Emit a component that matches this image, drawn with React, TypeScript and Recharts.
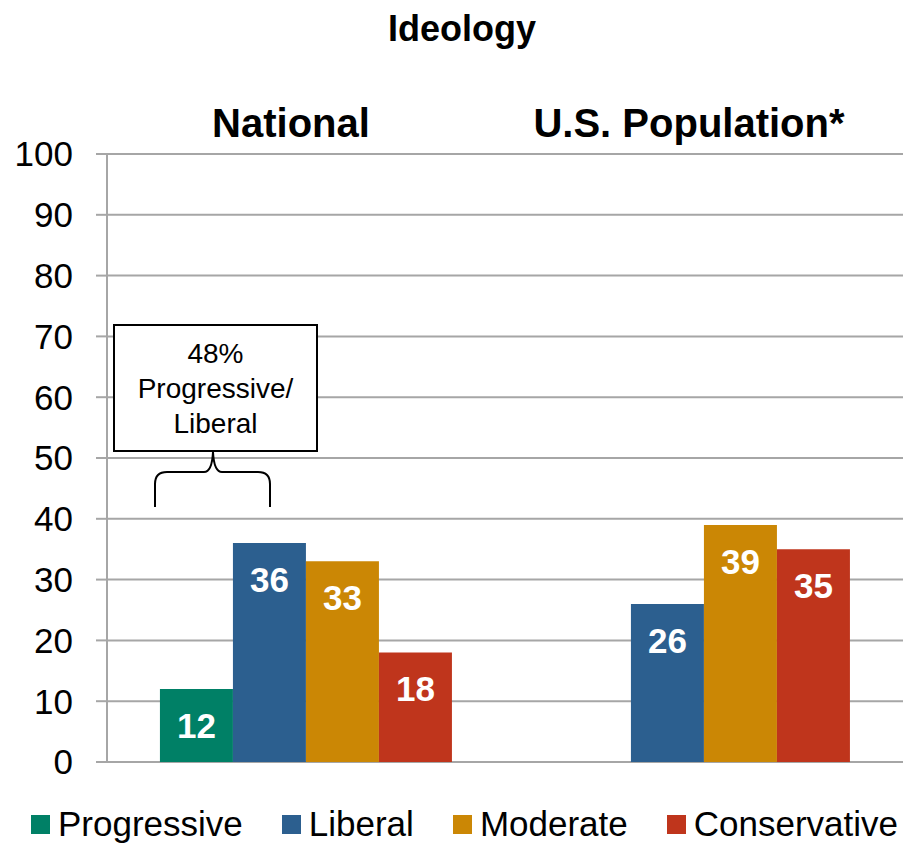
import React from 'react';
import { BarChart, Bar, XAxis, YAxis, CartesianGrid, LabelList } from 'recharts';

const categories = ['National', 'U.S. Population*'];
const progressive = [12, null];
const liberal = [36, 26];
const moderate = [33, 39];
const conservative = [18, 35];
const yTicks = [0, 10, 20, 30, 40, 50, 60, 70, 80, 90, 100];

const series = [
  { key: 'progressive', name: 'Progressive', color: '#008066' },
  { key: 'liberal', name: 'Liberal', color: '#2C5F8F' },
  { key: 'moderate', name: 'Moderate', color: '#CB8705' },
  { key: 'conservative', name: 'Conservative', color: '#BF351C' },
];

const data = categories.map((name, i) => ({
  name,
  progressive: progressive[i],
  liberal: liberal[i],
  moderate: moderate[i],
  conservative: conservative[i],
}));

const FONT = '"Liberation Sans", Arial, sans-serif';
const GRID = '#A6A6A6';

const CategoryTick = (props: any) => {
  const { x, y, payload } = props;
  return (
    <text x={x - 15} y={y} textAnchor="middle" fontSize={40} fontWeight="bold" fill="#000" fontFamily={FONT}>
      {payload.value}
    </text>
  );
};

export default function App() {
  return (
    <div style={{ position: 'absolute', left: 0, top: 0, width: 910, height: 846, fontFamily: FONT, background: '#fff' }}>
      <BarChart
        width={910}
        height={846}
        data={data}
        margin={{ top: 94, right: 7, left: 10, bottom: 84 }}
        barCategoryGap="13.3%"
        barGap={0}
      >
        <CartesianGrid vertical={false} stroke={GRID} strokeWidth={2} />
        <XAxis
          dataKey="name"
          orientation="top"
          height={60}
          axisLine={false}
          tickLine={false}
          tickSize={0}
          tickMargin={17}
          tick={<CategoryTick />}
        />
        <YAxis
          width={97}
          domain={[0, 100]}
          ticks={yTicks}
          interval={0}
          tickSize={11}
          tickMargin={23}
          axisLine={{ stroke: GRID, strokeWidth: 2 }}
          tickLine={{ stroke: GRID, strokeWidth: 2 }}
          tick={{ fontSize: 35, fill: '#000', fontFamily: FONT }}
        />
        {series.map((s) => (
          <Bar key={s.key} dataKey={s.key} name={s.name} fill={s.color} isAnimationActive={false}>
            <LabelList
              dataKey={s.key}
              position="insideTop"
              offset={24}
              fill="#fff"
              fontSize={35}
              fontWeight="bold"
              fontFamily={FONT}
              formatter={(v: any) => (v == null ? '' : v)}
            />
          </Bar>
        ))}
      </BarChart>

      <svg width={910} height={846} style={{ position: 'absolute', left: 0, top: 0, pointerEvents: 'none' }}>
        <text x={462} y={41} textAnchor="middle" fontSize={36} fontWeight="bold" fontFamily={FONT}>
          Ideology
        </text>
        {/* annotation over national progressive + liberal */}
        <rect x={114} y={325} width={203} height={126} fill="#fff" stroke="#000" strokeWidth={2} />
        <text x={215.5} y={363} textAnchor="middle" fontSize={28} fontFamily={FONT}>48%</text>
        <text x={215.5} y={398} textAnchor="middle" fontSize={28} fontFamily={FONT}>Progressive/</text>
        <text x={215.5} y={433} textAnchor="middle" fontSize={28} fontFamily={FONT}>Liberal</text>
        <path
          d="M155,507 L155,484 Q155,472 167,472 L204,472 Q212,472 213,452 Q214,472 222,472 L258,472 Q270,472 270,484 L270,507"
          fill="none"
          stroke="#000"
          strokeWidth={2}
        />
      </svg>

      <div style={{ position: 'absolute', left: 31, top: 804, display: 'flex', alignItems: 'center', fontSize: 35, lineHeight: '40px', color: '#000' }}>
        {series.map((s) => (
          <div key={s.key} style={{ display: 'flex', alignItems: 'center', marginRight: 39 }}>
            <span style={{ display: 'inline-block', width: 19, height: 19, background: s.color, marginRight: 8 }} />
            <span>{s.name}</span>
          </div>
        ))}
      </div>
    </div>
  );
}
